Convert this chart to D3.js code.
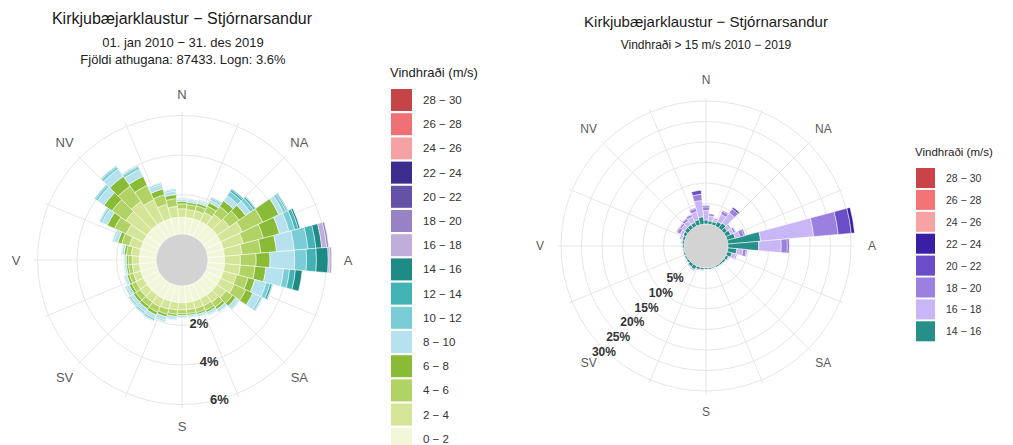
<!DOCTYPE html>
<html>
<head>
<meta charset="utf-8">
<script src="https://cdn.jsdelivr.net/npm/d3@7"></script>
<style>
  body { margin: 0; background: #fff; }
  svg { display: block; font-family: "Liberation Sans", Arial, sans-serif; }
</style>
</head>
<body>
<svg id="chart" width="1013" height="445"></svg>
<script>
// wind direction bins, 10 degrees each, clockwise from north
var directions = d3.range(0, 360, 10);
var compass = ["N", "NA", "A", "SA", "S", "SV", "V", "NV"];

var speedBins = ["0 − 2", "2 − 4", "4 − 6", "6 − 8", "8 − 10", "10 − 12", "12 − 14", "14 − 16",
                 "16 − 18", "18 − 20", "20 − 22", "22 − 24", "24 − 26", "26 − 28", "28 − 30"];

// left rose: frequency (%) per direction for each speed bin (all winds)
var all0_2   = [0.86,0.85,0.85,0.85,0.85,0.86,0.85,0.85,0.84,0.84,0.85,0.85,0.85,0.85,0.85,0.85,0.85,0.85,0.85,0.85,0.85,0.86,0.85,0.85,0.85,0.85,0.85,0.85,0.85,0.85,0.86,0.86,0.86,0.86,0.86,0.86];
var all2_4   = [0.42,0.40,0.42,0.50,0.65,0.75,1.20,1.05,0.90,0.80,0.80,0.70,0.75,0.55,0.45,0.40,0.38,0.36,0.36,0.38,0.42,0.45,0.44,0.43,0.40,0.38,0.36,0.36,0.42,0.60,0.95,1.30,1.45,1.20,0.75,0.55];
var all4_6   = [0.25,0.25,0.26,0.35,0.50,0.60,1.15,1.05,0.95,0.80,0.75,0.60,0.65,0.40,0.30,0.25,0.22,0.20,0.20,0.22,0.26,0.30,0.28,0.27,0.25,0.22,0.20,0.20,0.24,0.40,0.65,0.85,0.95,0.80,0.50,0.40];
var all6_8   = [0.13,0.12,0.13,0.20,0.35,0.40,0.90,0.85,0.80,0.70,0.55,0.35,0.40,0.20,0.15,0.12,0.10,0.09,0.09,0.11,0.14,0.16,0.15,0.15,0.14,0.12,0.10,0.10,0.12,0.20,0.40,0.50,0.60,0.50,0.30,0.20];
var all8_10  = [0.10,0.10,0.10,0.15,0.32,0.30,0.25,0.50,0.90,1.25,0.90,0.60,0.40,0.18,0.15,0.13,0.11,0.10,0.10,0.13,0.18,0.20,0.20,0.18,0.16,0.12,0.10,0.10,0.12,0.20,0.30,0.40,0.45,0.40,0.25,0.18];
var all10_12 = [0.05,0.05,0.05,0.09,0.25,0.20,0.15,0.30,0.70,0.60,0.30,0.20,0.10,0.05,0.04,0.04,0.03,0.04,0.04,0.05,0.07,0.10,0.09,0.08,0.07,0.05,0.03,0.03,0.04,0.07,0.10,0.14,0.14,0.14,0.07,0.07];
var all12_14 = [0.03,0.02,0.03,0.04,0.12,0.10,0.07,0.18,0.40,0.50,0.30,0.12,0.04,0.02,0.01,0.01,0.01,0.01,0.01,0.01,0.02,0.03,0.03,0.03,0.02,0.01,0.01,0.01,0.01,0.02,0.04,0.05,0.05,0.05,0.02,0.03];
var all14_16 = [0.01,0.01,0.01,0.02,0.05,0.04,0.03,0.10,0.30,0.60,0.35,0.03,0.01,0.00,0.00,0.00,0.00,0.00,0.00,0.00,0.01,0.01,0.01,0.01,0.01,0.00,0.00,0.00,0.00,0.01,0.01,0.01,0.01,0.01,0.01,0.02];
var all16_18 = [0.01,0.00,0.00,0.00,0.01,0.01,0.00,0.02,0.25,0.10,0.02,0.00,0.00,0.00,0.00,0.00,0.00,0.00,0.00,0.00,0.00,0.00,0.00,0.00,0.00,0.00,0.00,0.00,0.00,0.00,0.00,0.00,0.00,0.00,0.00,0.02];
var all18_20 = [0.00,0.00,0.00,0.00,0.00,0.00,0.00,0.00,0.10,0.07,0.00,0.00,0.00,0.00,0.00,0.00,0.00,0.00,0.00,0.00,0.00,0.00,0.00,0.00,0.00,0.00,0.00,0.00,0.00,0.00,0.00,0.00,0.00,0.00,0.00,0.00];

// right rose: frequency (%) per direction, winds > 15 m/s
var hi14_16 = [1.0,0.8,0.8,1.2,1.5,1.0,1.3,2.0,8.0,7.5,2.2,1.2,0.7,0.5,0.4,0.4,0.3,0.4,0.4,0.5,0.6,1.0,0.8,0.5,0.4,0.4,0.3,0.4,0.5,0.6,0.8,1.0,1.0,1.0,1.3,1.8];
var hi16_18 = [2.3,1.2,0.6,2.0,3.0,0.8,0.8,1.2,13.0,5.5,1.5,1.0,0.3,0.2,0.2,0.1,0.1,0.1,0.1,0.2,0.3,0.4,0.3,0.2,0.2,0.1,0.1,0.2,0.3,0.4,0.8,1.0,1.2,1.5,2.0,4.0];
var hi18_20 = [0.9,0.5,0.3,0.8,1.2,0.3,0.5,1.0,6.0,1.5,0.8,0.3,0.1,0.0,0.0,0.0,0.0,0.0,0.0,0.0,0.0,0.0,0.0,0.0,0.0,0.0,0.0,0.0,0.1,0.3,0.8,0.5,0.6,0.6,0.8,1.5];
var hi20_22 = [0.3,0.0,0.0,0.2,0.5,0.0,0.1,0.3,3.2,0.4,0.2,0.0,0.0,0.0,0.0,0.0,0.0,0.0,0.0,0.0,0.0,0.0,0.0,0.0,0.0,0.0,0.0,0.0,0.0,0.0,0.2,0.1,0.1,0.1,0.2,1.0];
var hi22_24 = [0.0,0.0,0.0,0.0,0.0,0.0,0.0,0.0,0.8,0.0,0.0,0.0,0.0,0.0,0.0,0.0,0.0,0.0,0.0,0.0,0.0,0.0,0.0,0.0,0.0,0.0,0.0,0.0,0.0,0.0,0.0,0.0,0.0,0.0,0.0,0.0];

var leftColors = ["#f2f7da","#d4e598","#b1d265","#89bb36","#b5e2ee","#7bcdd5","#43b2b5","#1d8a85",
                  "#bfaeda","#9682c5","#6551a8","#3b2c8e","#f4a2a4","#ef7175","#c54547"];
var rightColors = {"14 − 16": "#268f88", "16 − 18": "#c8b6f6", "18 − 20": "#9b80e0", "20 − 22": "#6a4dc8",
                   "22 − 24": "#3a1fa6", "24 − 26": "#f7a2a4", "26 − 28": "#f47476", "28 − 30": "#c84446"};

var svg = d3.select("#chart");
var deg = Math.PI / 180;

function rose(opts) {
  var g = svg.append("g").attr("transform", "translate(" + opts.cx + "," + opts.cy + ")");
  var r = opts.r;

  // grid: spokes every 22.5 degrees and circles at the radial breaks
  g.selectAll(".spoke").data(d3.range(0, 360, 22.5)).enter().append("line")
    .attr("x1", 0).attr("y1", 0)
    .attr("x2", function(d) { return Math.sin(d * deg) * opts.outer; })
    .attr("y2", function(d) { return -Math.cos(d * deg) * opts.outer; })
    .attr("stroke", "#e6e6e6").attr("stroke-width", 1);
  g.selectAll(".ring").data(opts.rings).enter().append("circle")
    .attr("r", function(d) { return r(d); })
    .attr("fill", "none").attr("stroke", "#e6e6e6").attr("stroke-width", 1);

  // calm circle
  g.append("circle").attr("r", r(0)).attr("fill", "#d3d3d3");

  var rows = directions.map(function(d, i) {
    var row = { dir: d };
    opts.keys.forEach(function(k) { row[k] = opts.series[k][i]; });
    return row;
  });
  var stacked = d3.stack().keys(opts.keys)(rows);
  var arc = d3.arc()
    .innerRadius(function(d) { return r(d[0]); })
    .outerRadius(function(d) { return r(d[1]); })
    .startAngle(function(d) { return (d.data.dir - 5) * deg; })
    .endAngle(function(d) { return (d.data.dir + 5) * deg; });

  g.selectAll(".layer").data(stacked).enter().append("g")
    .attr("fill", function(s) { return opts.color(s.key); })
    .selectAll("path")
    .data(function(s) { return s.filter(function(d) { return d[1] - d[0] > 0.001; }); })
    .enter().append("path")
    .attr("d", arc)
    .attr("stroke", "#fff").attr("stroke-width", 0.5);

  // compass labels
  g.selectAll(".compass").data(compass).enter().append("text")
    .attr("x", function(d, i) { return Math.sin(i * 45 * deg) * opts.labelR; })
    .attr("y", function(d, i) { return -Math.cos(i * 45 * deg) * opts.labelR; })
    .attr("text-anchor", "middle").attr("dominant-baseline", "central")
    .attr("font-size", opts.compassSize).attr("fill", "#5a5a5a")
    .text(function(d) { return d; });

  // radial tick labels
  g.selectAll(".tick").data(opts.ticks).enter().append("text")
    .attr("x", function(d) { return Math.sin(opts.tickAngle * deg) * (r(d) + opts.tickPad); })
    .attr("y", function(d) { return -Math.cos(opts.tickAngle * deg) * (r(d) + opts.tickPad); })
    .attr("text-anchor", "middle").attr("dominant-baseline", "central")
    .attr("font-size", opts.tickSize).attr("font-weight", "bold").attr("fill", "#333")
    .text(function(d) { return d + "%"; });
}

function legend(x, y, title, labels, colorOf, step, w, h, titleSize, labelSize) {
  var g = svg.append("g").attr("transform", "translate(" + x + "," + y + ")");
  g.append("text").attr("x", -1).attr("y", -12).attr("font-size", titleSize).attr("fill", "#222").text(title);
  var items = g.selectAll(".item").data(labels).enter().append("g")
    .attr("transform", function(d, i) { return "translate(0," + (i * step) + ")"; });
  items.append("rect").attr("width", w).attr("height", h).attr("fill", function(d) { return colorOf(d); });
  items.append("text").attr("x", w + 11).attr("y", h / 2).attr("dominant-baseline", "central")
    .attr("font-size", labelSize).attr("fill", "#333").text(function(d) { return d; });
}

// ---------- left: all winds ----------
var leftKeys = speedBins.slice(0, 10);
var leftSeries = {};
[all0_2, all2_4, all4_6, all6_8, all8_10, all10_12, all12_14, all14_16, all16_18, all18_20]
  .forEach(function(a, i) { leftSeries[leftKeys[i]] = a; });
var leftColor = d3.scaleOrdinal().domain(speedBins).range(leftColors);

rose({
  cx: 182, cy: 260, outer: 148,
  r: d3.scaleLinear().domain([0, 6]).range([26, 144.5]),
  rings: [2, 4, 6],
  keys: leftKeys, series: leftSeries, color: leftColor,
  labelR: 166, compassSize: 13,
  ticks: [2, 4, 6], tickAngle: 165, tickPad: 0, tickSize: 13
});

svg.append("text").attr("x", 182).attr("y", 24).attr("text-anchor", "middle")
  .attr("font-size", 16).attr("fill", "#1a1a1a").text("Kirkjubæjarklaustur − Stjórnarsandur");
svg.append("text").attr("x", 183).attr("y", 47).attr("text-anchor", "middle")
  .attr("font-size", 13).attr("fill", "#222").text("01. jan 2010 − 31. des 2019");
svg.append("text").attr("x", 183).attr("y", 64).attr("text-anchor", "middle")
  .attr("font-size", 13).attr("fill", "#222").text("Fjöldi athugana: 87433. Logn: 3.6%");

legend(391, 89, "Vindhraði (m/s)", speedBins.slice().reverse(), leftColor, 24.2, 21, 22, 13, 11.5);

// ---------- right: winds above 15 m/s ----------
var rightKeys = speedBins.slice(7, 12);
var rightSeries = {};
[hi14_16, hi16_18, hi18_20, hi20_22, hi22_24].forEach(function(a, i) { rightSeries[rightKeys[i]] = a; });
var rightColor = function(k) { return rightColors[k]; };

rose({
  cx: 706, cy: 246, outer: 148,
  r: d3.scaleLinear().domain([0, 30]).range([22, 145]),
  rings: [5, 10, 15, 20, 25, 30],
  keys: rightKeys, series: rightSeries, color: rightColor,
  labelR: 166, compassSize: 12,
  ticks: [5, 10, 15, 20, 25, 30], tickAngle: 224, tickPad: 2, tickSize: 12
});

svg.append("text").attr("x", 706).attr("y", 27).attr("text-anchor", "middle")
  .attr("font-size", 15).attr("fill", "#1a1a1a").text("Kirkjubæjarklaustur − Stjórnarsandur");
svg.append("text").attr("x", 706).attr("y", 49).attr("text-anchor", "middle")
  .attr("font-size", 12).attr("fill", "#222").text("Vindhraði > 15 m/s 2010 − 2019");

legend(916, 168, "Vindhraði (m/s)", speedBins.slice(7).reverse(), rightColor, 21.9, 19, 20, 11.5, 10.5);
</script>
</body>
</html>
